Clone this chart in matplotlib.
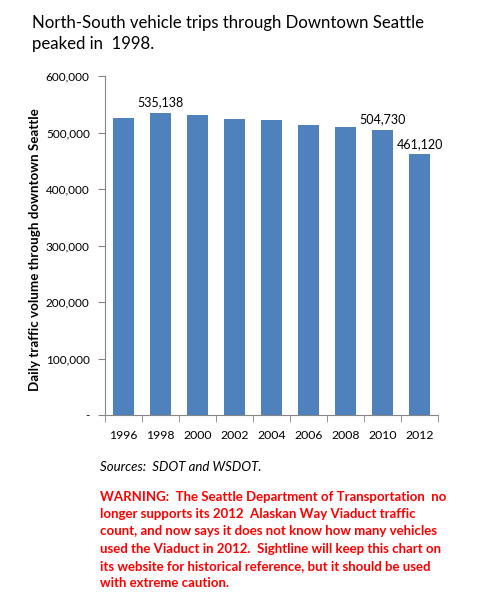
import matplotlib.pyplot as plt
import numpy as np

YEARS = ['1996', '1998', '2000', '2002', '2004', '2006', '2008', '2010', '2012']
TRIPS = [525500, 535138, 530500, 524000, 522000, 513000, 509500, 504730, 461120]
LABELED = {'1998': '535,138', '2010': '504,730', '2012': '461,120'}
YTICKS = [0, 100000, 200000, 300000, 400000, 500000, 600000]
YTICK_LABELS = ['-', '100,000', '200,000', '300,000', '400,000', '500,000', '600,000']

TITLE = 'North-South vehicle trips through Downtown Seattle\npeaked in  1998.'
SOURCE = 'Sources:  SDOT and WSDOT.'
WARNING = ('WARNING:  The Seattle Department of Transportation  no\n'
           'longer supports its 2012  Alaskan Way Viaduct traffic\n'
           'count, and now says it does not know how many vehicles\n'
           'used the Viaduct in 2012.  Sightline will keep this chart on\n'
           'its website for historical reference, but it should be used\n'
           'with extreme caution.')

plt.rcParams['font.family'] = ['Lato', 'DejaVu Sans']

fig = plt.figure(figsize=(4.89, 6.15), dpi=100)
ax = fig.add_axes([105 / 489, 1 - 415 / 615, 333 / 489, 339 / 615])

x = np.arange(len(YEARS))
ax.bar(x, TRIPS, width=0.57, color='#4F81BD')

for i, yr in enumerate(YEARS):
    if yr in LABELED:
        ax.text(i, TRIPS[i] + 8000, LABELED[yr], ha='center', va='bottom', fontsize=9)

ax.set_xlim(-0.5, len(YEARS) - 0.5)
ax.set_ylim(0, 600000)
ax.set_xticks(x)
ax.set_xticklabels(YEARS, fontsize=8.8)
ax.set_xticks(np.arange(-0.5, len(YEARS)), minor=True)
ax.tick_params(axis='x', which='major', length=0, pad=11)
ax.tick_params(axis='x', which='minor', length=5, color='#868686', direction='out')
ax.set_yticks(YTICKS)
ax.set_yticklabels(YTICK_LABELS, fontsize=8.5)
ax.tick_params(axis='y', length=5, color='#868686', pad=6)

for s in ['top', 'right']:
    ax.spines[s].set_visible(False)
for s in ['left', 'bottom']:
    ax.spines[s].set_color('#868686')

ax.set_ylabel('Daily traffic volume through downtown Seattle', fontsize=9.6, fontweight='bold')
ax.yaxis.set_label_coords(-64 / 333, 0.487)

fig.text(32 / 489, 1 - 15 / 615, TITLE, ha='left', va='top', fontsize=12.1, linespacing=1.35)
fig.text(100 / 489, 1 - 467 / 615, SOURCE, ha='left', va='center', fontsize=9.5, style='italic')
fig.text(100 / 489, 1 - 491 / 615, WARNING, ha='left', va='top', fontsize=9.5,
         fontweight='bold', color='#FF0000', linespacing=1.52)

fig.savefig('out.png', dpi=100)
